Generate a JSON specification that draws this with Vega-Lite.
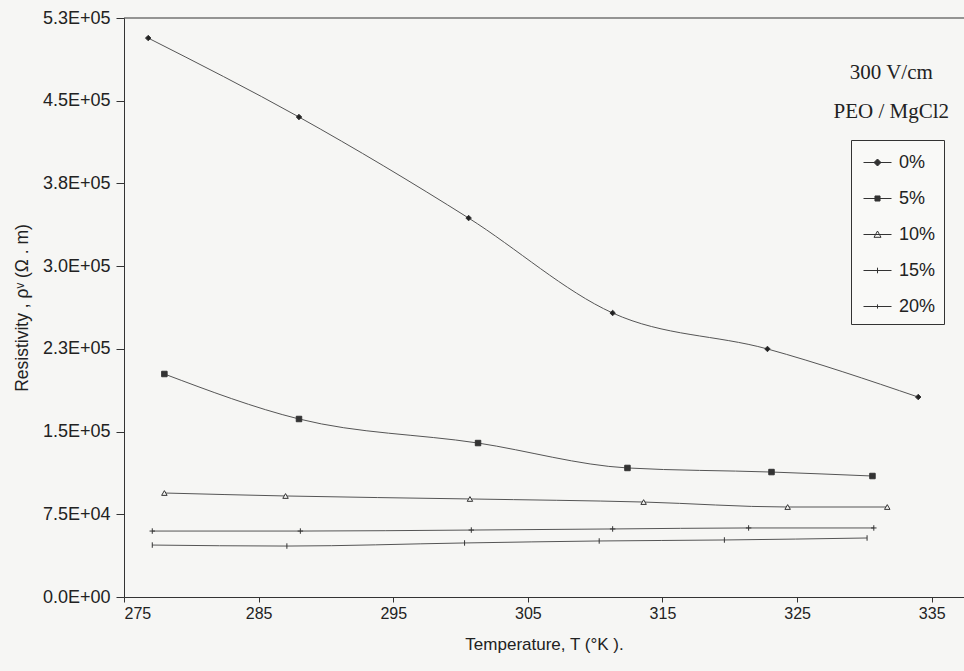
{
  "$schema": "https://vega.github.io/schema/vega-lite/v6.json",
  "width": 840,
  "height": 579,
  "autosize": {"type": "none"},
  "padding": {"left": 124, "top": 18, "right": 0, "bottom": 74},
  "background": "#f6f6f4",
  "config": {
    "view": {"stroke": null},
    "font": "Liberation Sans",
    "axis": {"grid": false, "domainColor": "#333", "tickColor": "#333", "labelColor": "#222", "titleColor": "#222", "titleFontWeight": "normal", "labelFont": "Liberation Sans", "titleFont": "Liberation Sans"}
  },
  "datasets": {
    "series": [
      {"T": 276.8, "rho": 506800, "pct": "0%"},
      {"T": 288.0, "rho": 435200, "pct": "0%"},
      {"T": 300.6, "rho": 343600, "pct": "0%"},
      {"T": 311.3, "rho": 257500, "pct": "0%"},
      {"T": 322.8, "rho": 224900, "pct": "0%"},
      {"T": 334.0, "rho": 181300, "pct": "0%"},
      {"T": 278.0, "rho": 202200, "pct": "5%"},
      {"T": 288.0, "rho": 161400, "pct": "5%"},
      {"T": 301.3, "rho": 139600, "pct": "5%"},
      {"T": 312.4, "rho": 117000, "pct": "5%"},
      {"T": 323.1, "rho": 113300, "pct": "5%"},
      {"T": 330.6, "rho": 109700, "pct": "5%"},
      {"T": 278.0, "rho": 94300, "pct": "10%"},
      {"T": 287.0, "rho": 91600, "pct": "10%"},
      {"T": 300.7, "rho": 88900, "pct": "10%"},
      {"T": 313.6, "rho": 86100, "pct": "10%"},
      {"T": 324.3, "rho": 81600, "pct": "10%"},
      {"T": 331.7, "rho": 81600, "pct": "10%"},
      {"T": 277.1, "rho": 59800, "pct": "15%"},
      {"T": 288.1, "rho": 59800, "pct": "15%"},
      {"T": 300.8, "rho": 60700, "pct": "15%"},
      {"T": 311.3, "rho": 61700, "pct": "15%"},
      {"T": 321.4, "rho": 62600, "pct": "15%"},
      {"T": 330.7, "rho": 62600, "pct": "15%"},
      {"T": 277.1, "rho": 47100, "pct": "20%"},
      {"T": 287.1, "rho": 46200, "pct": "20%"},
      {"T": 300.3, "rho": 49000, "pct": "20%"},
      {"T": 310.3, "rho": 50800, "pct": "20%"},
      {"T": 319.6, "rho": 51700, "pct": "20%"},
      {"T": 330.2, "rho": 53500, "pct": "20%"}
    ],
    "notes": [
      {"T": 332.0, "rho": 475000, "label": "300 V/cm"},
      {"T": 332.0, "rho": 440000, "label": "PEO / MgCl2"}
    ],
    "border": [
      {"T": 275, "T2": 337.4, "rho": 525000}
    ]
  },
  "encoding": {
    "x": {
      "field": "T", "type": "quantitative",
      "scale": {"domain": [275, 337.4], "nice": false, "zero": false},
      "axis": {
        "values": [275, 285, 295, 305, 315, 325, 335],
        "format": "d",
        "tickSize": 5,
        "labelFontSize": 16,
        "labelPadding": 3,
        "title": "Temperature, T (°K ).",
        "titleFontSize": 17,
        "titlePadding": 15
      }
    },
    "y": {
      "field": "rho", "type": "quantitative",
      "scale": {"domain": [0, 525000], "nice": false},
      "axis": {
        "values": [0, 75000, 150000, 225000, 300000, 375000, 450000, 525000],
        "labelExpr": "datum.value == 0 ? '0.0E+00' : replace(format(datum.value, '.1e'), 'e+', 'E+0')",
        "tickSize": 8,
        "labelPadding": 6,
        "labelFontSize": 18,
        "title": "Resistivity , ρᵛ (Ω . m)",
        "titleFontSize": 17.5,
        "titlePadding": 11
      }
    }
  },
  "layer": [
    {
      "data": {"name": "border"},
      "mark": {"type": "rule", "color": "#333", "strokeWidth": 1.2},
      "encoding": {"x2": {"field": "T2"}}
    },
    {
      "data": {"name": "series"},
      "mark": {"type": "line", "color": "#555", "strokeWidth": 1, "interpolate": "monotone"},
      "encoding": {"detail": {"field": "pct", "type": "nominal"}}
    },
    {
      "data": {"name": "series"},
      "mark": {"type": "point", "stroke": "#333", "strokeWidth": 1, "size": 30, "opacity": 1},
      "encoding": {
        "shape": {
          "field": "pct", "type": "nominal",
          "scale": {
            "domain": ["0%", "5%", "10%", "15%", "20%"],
            "range": ["diamond", "square", "triangle-up", "M0,-1L0,1M-1,0L1,0", "M0,-1L0,1"]
          },
          "legend": null
        },
        "fill": {
          "field": "pct", "type": "nominal",
          "scale": {
            "domain": ["0%", "5%", "10%", "15%", "20%"],
            "range": ["#222", "#333", "#f6f6f4", "transparent", "transparent"]
          },
          "legend": null
        }
      }
    },
    {
      "data": {"name": "series"},
      "transform": [{"filter": "false"}],
      "mark": {"type": "point", "strokeWidth": 1, "size": 784, "opacity": 1},
      "encoding": {
        "shape": {
          "field": "pct", "type": "nominal",
          "scale": {
            "domain": ["0%", "5%", "10%", "15%", "20%"],
            "range": [
              "M-1,0L1,0M0,-0.25L0.25,0L0,0.25L-0.25,0Z",
              "M-1,0L1,0M-0.18,-0.18L0.18,-0.18L0.18,0.18L-0.18,0.18Z",
              "M-1,0L1,0M0,-0.25L0.25,0.2L-0.25,0.2Z",
              "M-1,0L1,0M0,-0.2L0,0.2",
              "M-1,0L1,0M0,-0.15L0,0.15"
            ]
          },
          "legend": {
            "orient": "none",
            "legendX": 727,
            "legendY": 122,
            "title": null,
            "strokeColor": "#333",
            "fillColor": "#f9f9f7",
            "padding": 8,
            "symbolSize": 784,
            "symbolOffset": 4,
            "symbolStrokeWidth": 1,
            "labelFontSize": 18,
            "labelColor": "#222",
            "labelOffset": 7,
            "rowPadding": 12
          }
        },
        "fill": {
          "field": "pct", "type": "nominal",
          "scale": {
            "domain": ["0%", "5%", "10%", "15%", "20%"],
            "range": ["#333", "#333", "transparent", "transparent", "transparent"]
          }
        },
        "stroke": {
          "field": "pct", "type": "nominal",
          "scale": {
            "domain": ["0%", "5%", "10%", "15%", "20%"],
            "range": ["#333", "#333", "#333", "#333", "#333"]
          }
        }
      }
    },
    {
      "data": {"name": "notes"},
      "mark": {"type": "text", "font": "Liberation Serif", "fontSize": 21, "color": "#222", "align": "center", "baseline": "middle"},
      "encoding": {"text": {"field": "label"}}
    }
  ],
  "resolve": {
    "scale": {"shape": "independent", "fill": "independent", "stroke": "independent"},
    "legend": {"shape": "independent", "fill": "independent", "stroke": "independent"}
  }
}
